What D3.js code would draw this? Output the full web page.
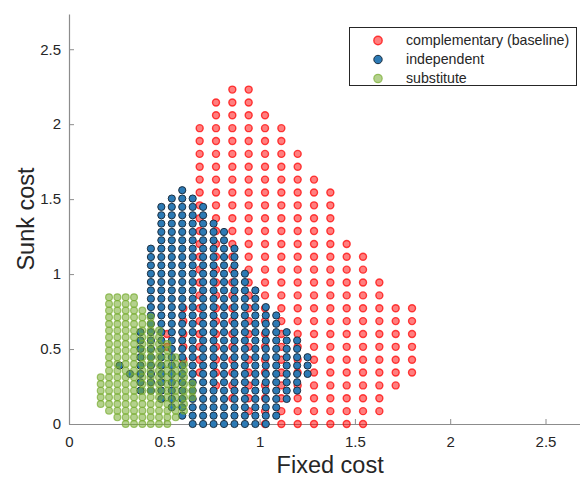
<!DOCTYPE html>
<html><head><meta charset="utf-8">
<script src="https://cdn.jsdelivr.net/npm/d3@7"></script>
<style>body{margin:0;background:#fff}svg{display:block;font-family:"Liberation Sans",Arial,sans-serif}</style>
</head><body><svg id="c" width="580" height="477"></svg>
<script>
// ---- data ----
const seriesNames = ["complementary (baseline)", "independent", "substitute"];
const xTicks = [0, 0.5, 1, 1.5, 2, 2.5];
const yTicks = [0, 0.5, 1, 1.5, 2, 2.5];
const tickLabels = ["0", "0.5", "1", "1.5", "2", "2.5"];
// grid origin and spacing of each series: [x0, dx, y0, dy]
const redGrid = [0, 0.0857, 0, 0.0858];
const blueGrid = [0.4297, 0.0548, 0, 0.0557];
const greenGrid = [0.1663, 0.0437, 0, 0.0445];
// occupied cells per grid row: [row, firstCol, lastCol]
const redRows = [[26,10,11],[25,9,11],[24,9,12],[23,8,13],[22,8,13],[21,8,14],[20,8,14],[19,8,15],[18,8,16],[17,8,16],[16,8,16],[15,8,16],[14,8,17],[13,8,18],[12,8,18],[11,8,19],[10,8,19],[9,7,21],[8,7,21],[7,6,21],[6,6,21],[5,7,21],[4,8,21],[3,9,20],[2,10,19],[1,11,19],[0,12,18]];
const blueRows = [[28,3,3],[27,2,4],[26,1,5],[25,1,5],[24,1,6],[23,1,7],[22,1,7],[21,0,8],[20,0,8],[19,0,8],[18,0,9],[17,0,9],[16,0,10],[15,0,10],[14,0,11],[13,0,12],[12,0,12],[11,-1,13],[10,-1,14],[9,-1,14],[8,-1,15],[7,-1,15],[6,-1,15],[5,-1,14],[4,-1,14],[3,1,13],[2,2,12],[1,3,12],[0,4,11],[7,-3,-3],[6,-2,-2]];
const greenRows = [[19,1,4],[18,1,4],[17,1,5],[16,1,6],[15,1,6],[14,1,7],[13,1,7],[12,1,8],[11,1,8],[10,1,9],[9,1,10],[8,1,10],[7,0,10],[6,0,11],[5,0,11],[4,0,11],[3,0,10],[2,1,10],[1,2,9],[0,3,8]];

function expand(grid, rows){
  const [x0,dx,y0,dy] = grid;
  return rows.flatMap(([r,a,b]) => d3.range(a,b+1).map(c => ({x:x0+c*dx, y:y0+r*dy})));
}

const svg = d3.select("#c");
const x = d3.scaleLinear().domain([0, 2.7]).range([69, 69 + 2.7*190.6]);
const y = d3.scaleLinear().domain([0, 2.735]).range([424, 14]);

const styles = [
  {fill:"rgba(255,0,0,0.5)", stroke:"rgba(255,0,0,0.72)", sw:1.4, r:3.5},
  {fill:"#2c7ab5", stroke:"#1d2f40", sw:1, r:3.6},
  {fill:"rgba(119,172,48,0.55)", stroke:"rgba(119,172,48,0.7)", sw:1.2, r:3.4}
];
const data = [expand(redGrid, redRows), expand(blueGrid, blueRows), expand(greenGrid, greenRows)];

// axes
const tickCol = "#262626";
const gx = svg.append("g").attr("transform","translate(0,424)")
  .call(d3.axisBottom(x).tickValues(xTicks).tickFormat((d,i)=>tickLabels[i]).tickSizeInner(-5).tickSizeOuter(0).tickPadding(12));
const gy = svg.append("g").attr("transform","translate(69,0)")
  .call(d3.axisLeft(y).tickValues(yTicks).tickFormat((d,i)=>tickLabels[i]).tickSizeInner(-5).tickSizeOuter(0).tickPadding(8));
[gx,gy].forEach(g=>{
  g.select(".domain").attr("stroke","#8c8c8c").attr("stroke-width",1.2);
  g.selectAll(".tick line").attr("stroke","#8c8c8c");
  g.selectAll(".tick text").attr("fill",tickCol).attr("font-size",15).attr("font-family","Liberation Sans, Arial, sans-serif");
});

// points
data.forEach((pts,i)=>{
  const s = styles[i];
  svg.append("g").selectAll("circle").data(pts).join("circle")
    .attr("cx",d=>x(d.x)).attr("cy",d=>y(d.y)).attr("r",s.r)
    .attr("fill",s.fill).attr("stroke",s.stroke).attr("stroke-width",s.sw);
});

// axis labels
svg.append("text").attr("x",x(1.37)).attr("y",473).attr("text-anchor","middle")
  .attr("font-size",23.5).attr("fill",tickCol).text("Fixed cost");
svg.append("text").attr("transform","translate(34,219) rotate(-90)").attr("text-anchor","middle")
  .attr("font-size",23.5).attr("fill",tickCol).text("Sunk cost");

// legend
const lg = svg.append("g");
lg.append("rect").attr("x",349.5).attr("y",27.5).attr("width",227).attr("height",58)
  .attr("fill","#fff").attr("stroke","#262626").attr("stroke-width",1);
seriesNames.forEach((n,i)=>{
  const cy = 40.5 + i*19;
  const s = styles[i];
  lg.append("circle").attr("cx",378).attr("cy",cy).attr("r",4.2)
    .attr("fill",s.fill).attr("stroke",s.stroke).attr("stroke-width",s.sw);
  lg.append("text").attr("x",406).attr("y",cy+4.8).attr("font-size",14.2).attr("fill",tickCol).text(n);
});
</script></body></html>
